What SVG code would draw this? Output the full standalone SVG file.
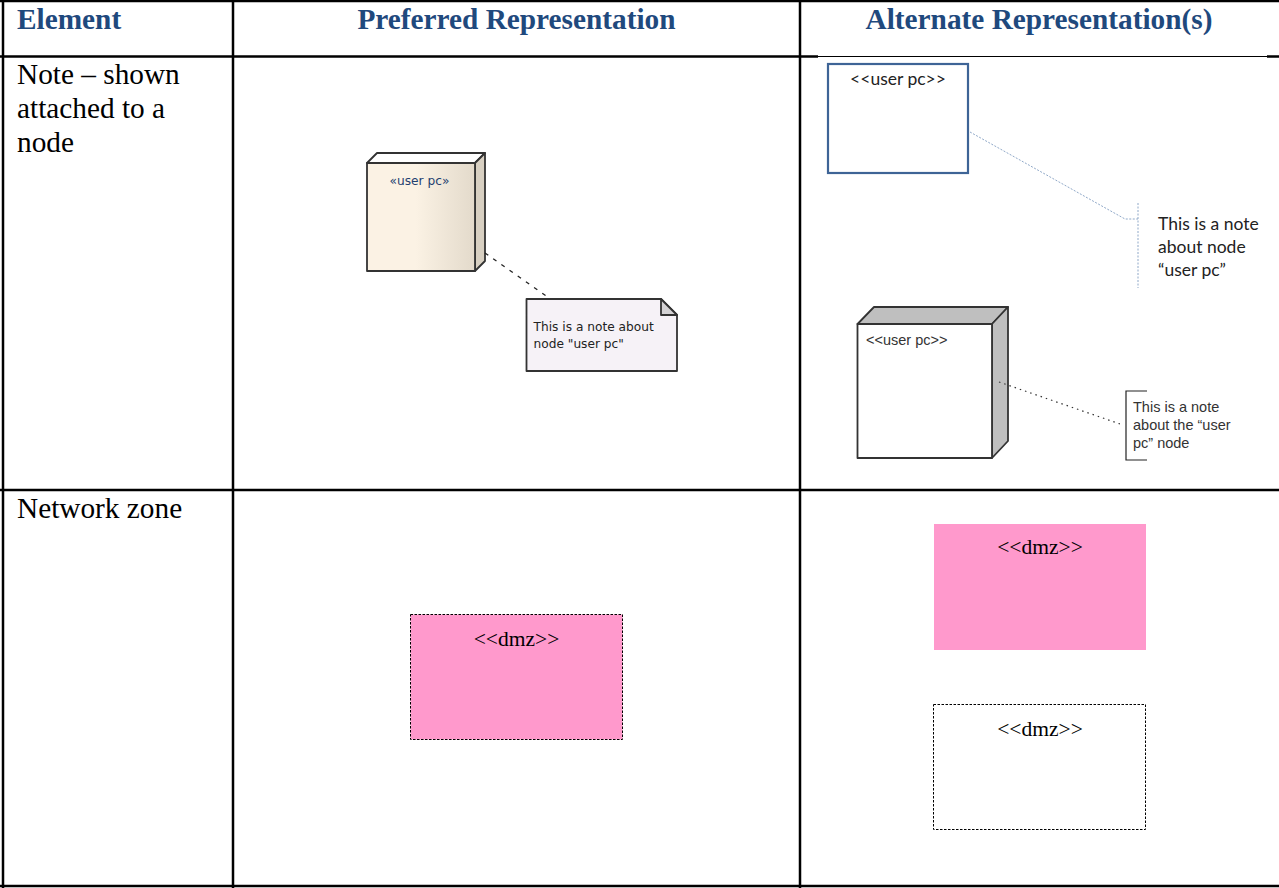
<svg xmlns="http://www.w3.org/2000/svg" width="1279" height="888" viewBox="0 0 1279 888">
<style>
.grid{stroke:#000;stroke-width:2.500;fill:none}
.hd{font:bold 29.3px "Liberation Serif",serif;fill:#1f497d}
.cell{font:29.3px "Liberation Serif",serif;fill:#000}
.dmz{font:21.5px "Liberation Serif",serif;fill:#000;text-anchor:middle}
.cal{font:17.5px Lato,"Open Sans",sans-serif;fill:#222}
.ar{font:14.500px "Liberation Sans",sans-serif;fill:#333}
.ea{font:12.200px "DejaVu Sans",sans-serif;fill:#222}
.o{stroke:#333;stroke-width:1.800;stroke-linejoin:round}
</style>
<defs><linearGradient id="g"><stop offset="0.45" stop-color="#fbf2e4"/><stop offset="1" stop-color="#e3dacb"/></linearGradient></defs>
<rect width="1279" height="888" fill="#fff"/>
<g id="table" class="grid">
<path d="M0 1H1279M0 56.500H818M1267 56.500H1279M0 490H1279M0 886H1279M3 0V888M233 0V888M800 0V888"/>
<path d="M818 56.500H1267" stroke-width="1"/>
</g>
<g id="headers">
<text class="hd" x="17" y="29">Element</text>
<text class="hd" x="516.500" y="29" text-anchor="middle">Preferred Representation</text>
<text class="hd" x="1039" y="29" text-anchor="middle">Alternate Representation(s)</text>
<text class="cell" x="17" y="84">Note – shown</text>
<text class="cell" x="17" y="118">attached to a</text>
<text class="cell" x="17" y="152">node</text>
<text class="cell" x="17" y="518">Network zone</text>
</g>
<g id="pref-node">
<path class="o" d="M367 163L377 153H485L475 163Z" fill="#fff"/>
<path class="o" d="M475 163L485 153V261L475 271Z" fill="#d8d0c2"/>
<rect class="o" x="367" y="163" width="108" height="108" fill="url(#g)"/>
<text class="ea" x="419.500" y="185" text-anchor="middle" style="fill:#1f3f70">«user pc»</text>
</g>
<g id="pref-note">
<path class="o" d="M526.500 299H661L677 315V371H526.500Z" fill="#f6f2f7"/>
<path class="o" d="M661 299V315H677Z" fill="#d4d2d4"/>
<text class="ea" x="533.500" y="331">This is a note about</text>
<text class="ea" x="533.500" y="348">node "user pc"</text>
</g>
<g id="alt-box">
<rect x="828" y="64" width="140" height="109" fill="#fff" stroke="#3e6496" stroke-width="2.200"/>
<text class="cal" x="898" y="85" text-anchor="middle">&lt;&lt;user pc&gt;&gt;</text>
</g>
<g id="alt-note">
<path d="M1138 203V288" fill="none" stroke="#8fa8c8" stroke-width="1" stroke-dasharray="2 1.500"/>
<text class="cal" x="1158" y="230">This is a note</text>
<text class="cal" x="1158" y="253">about node</text>
<text class="cal" x="1158" y="276">“user pc”</text>
</g>
<g id="alt-node">
<path class="o" d="M857.500 324L874 307H1008L992 324Z" fill="#bfbfbf"/>
<path class="o" d="M992 324L1008 307V441L992 458Z" fill="#bfbfbf"/>
<rect class="o" x="857.500" y="324" width="134.500" height="134" fill="#fff"/>
<text class="ar" x="866" y="345">&lt;&lt;user pc&gt;&gt;</text>
</g>
<g id="alt-bracket-note">
<path d="M1147 391H1126V460H1147" fill="none" stroke="#222" stroke-width="1.200"/>
<text class="ar" x="1133" y="412">This is a note</text>
<text class="ar" x="1133" y="430">about the “user</text>
<text class="ar" x="1133" y="448">pc” node</text>
</g>
<g id="zone-pref">
<rect x="410.500" y="614.500" width="212" height="125" fill="#ff99cc" stroke="#000" stroke-width="1" stroke-dasharray="2.500 1.500"/>
<text class="dmz" x="516.500" y="646">&lt;&lt;dmz&gt;&gt;</text>
</g>
<g id="zone-alt-filled">
<rect x="934" y="524" width="212" height="126" fill="#ff99cc"/>
<text class="dmz" x="1040" y="554">&lt;&lt;dmz&gt;&gt;</text>
</g>
<g id="zone-alt-outline">
<rect x="933.500" y="704.500" width="212" height="125" fill="#fff" stroke="#000" stroke-width="1" stroke-dasharray="2.500 1.500"/>
<text class="dmz" x="1040" y="736">&lt;&lt;dmz&gt;&gt;</text>
</g>
<g id="connectors" fill="none">
<path d="M485 253L549 298" stroke="#222" stroke-width="1.300" stroke-dasharray="4 6"/>
<path d="M970 132L1125 219H1138" stroke="#8fa8c8" stroke-width="1" stroke-dasharray="2 1.500"/>
<path d="M999 382L1123 425" stroke="#333" stroke-width="1.200" stroke-dasharray="1.500 4"/>
</g>
</svg>
